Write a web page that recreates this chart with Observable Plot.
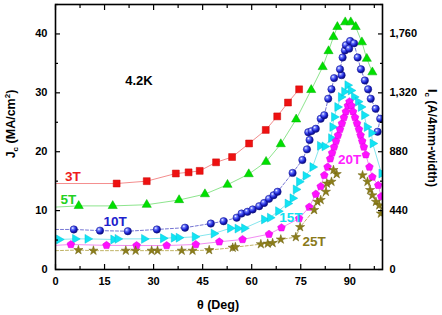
<!DOCTYPE html>
<html><head><meta charset="utf-8">
<script src="https://cdn.jsdelivr.net/npm/d3@7"></script>
<script src="https://cdn.jsdelivr.net/npm/@observablehq/plot@0.6"></script>
<style>
body{margin:0;background:#fff}
#chart svg{font-family:"Liberation Sans",Arial,sans-serif;font-weight:bold;}
</style>
</head><body><div id="chart"></div>
<script>
// ---- data: [theta (deg), Jc (MA/cm^2)] ----
const s3T = [[18.7,14.6],[27.9,15.0],[36.8,16.3],[40.7,16.5],[44.1,16.75],[49.1,18.2],[54.0,19.1],[59.2,21.4],[64.3,23.7],[67.8,26.0],[71.1,28.35],[74.5,30.6]];
const s5T = [[7.1,10.8],[17.5,10.8],[27.9,11.0],[37.8,11.8],[45.7,12.8],[52.6,14.4],[59.1,16.2],[64.4,18.3],[68.9,21.3],[73.6,25.5],[78.2,30.5],[81.7,34.4],[83.5,37.1],[85.0,39.5],[86.2,41.2],[88.6,42.0],[90.3,42.0],[91.8,41.2],[93.7,38.6],[95.2,35.8],[96.9,33.5]];
const s10T = [[5.6,6.8],[13.6,6.6],[22.1,6.5],[31.0,6.8],[39.6,7.1],[47.5,7.8],[51.4,8.2],[55.4,8.8],[56.9,9.5],[58.7,9.8],[60.3,10.2],[62.3,10.75],[63.8,11.3],[65.3,12.0],[66.7,12.6],[67.9,13.2],[72.5,16.4],[75.5,18.6],[76.9,20.4],[77.7,22.0],[77.3,23.3],[78.3,23.5],[79.6,23.9],[81.1,25.6],[82.2,26.2],[83.4,29.0],[84.4,30.6],[85.2,32.5],[87.5,33.0],[87.0,34.0],[87.8,36.0],[88.5,37.2],[88.8,38.1],[89.8,37.5],[90.1,38.8],[91.3,38.4],[92.4,36.0],[93.4,34.0],[94.6,32.1],[95.6,30.6],[96.4,29.0],[97.9,27.3],[99.3,25.6],[98.5,23.4]];
const s15T = [[1.1,5.1],[6.0,5.2],[9.8,5.2],[17.7,5.1],[19.0,5.2],[27.1,5.2],[32.9,5.3],[36.2,5.4],[37.7,5.4],[42.6,5.55],[48.4,6.1],[53.4,7.0],[55.7,6.95],[57.7,7.0],[63.8,8.5],[65.6,8.8],[68.1,9.9],[71.0,11.2],[72.5,12.1],[73.5,13.6],[74.5,14.9],[76.5,15.9],[78.6,17.4],[80.9,21.0],[82.3,20.9],[84.3,22.3],[84.7,24.2],[85.2,25.9],[86.2,27.6],[87.3,29.3],[88.3,30.2],[89.3,31.3],[90.3,30.4],[91.3,29.3],[92.5,28.5],[93.4,27.6],[94.4,26.2],[95.2,24.2],[96.6,23.2],[97.0,21.4],[99.7,16.3]];
const s20T = [[4.7,4.25],[15.6,4.1],[24.8,4.07],[34.0,4.07],[42.9,4.25],[50.1,4.7],[57.2,5.1],[65.3,6.0],[69.1,7.1],[74.5,8.65],[77.6,10.6],[79.6,12.8],[81.1,14.1],[82.2,16.0],[83.2,17.4],[84.0,18.8],[84.6,19.8],[85.2,20.8],[85.8,21.8],[86.4,22.8],[87.0,23.8],[87.6,24.8],[88.2,25.8],[88.8,26.8],[89.4,27.8],[89.9,28.5],[90.5,27.8],[91.0,26.8],[91.6,25.8],[92.2,24.8],[92.8,23.8],[93.3,22.8],[93.8,21.8],[94.3,20.8],[94.9,19.5],[96.0,17.4],[96.9,15.7],[98.7,14.3],[99.6,12.4]];
const s25T = [[7.0,3.3],[11.6,3.2],[21.5,3.2],[24.5,3.2],[29.4,3.2],[31.2,3.2],[38.6,3.2],[41.9,3.2],[47.0,3.3],[54.2,3.7],[55.0,3.8],[62.8,4.3],[64.9,4.4],[66.4,4.5],[68.9,5.1],[73.5,5.5],[74.8,7.2],[79.1,10.1],[80.1,11.5],[81.1,11.8],[82.7,13.2],[83.0,14.6],[84.4,14.9],[86.0,16.2],[85.0,16.9]];
const s25Tb = [[93.9,16.0],[95.4,14.9],[96.2,13.5],[96.9,12.6],[98.0,11.5],[99.0,10.9],[99.5,9.5]];
// Jc level of each fit line at theta = 0
const lineStart = {"3T":14.6,"5T":10.6,"10T":6.8,"15T":5.0,"20T":4.1,"25T":3.2};
const xTicks = [0,15,30,45,60,75,90];
const yTicks = [0,10,20,30,40];
const icPerJc = 44; // right axis: Ic (A/4mm-width) = 44 * Jc

// ---- custom symbols ----
const triRight = {draw(ctx,size){const y=Math.sqrt(size/(Math.sqrt(3)*3));ctx.moveTo(2*y,0);ctx.lineTo(-y,-Math.sqrt(3)*y);ctx.lineTo(-y,Math.sqrt(3)*y);ctx.closePath();}};
const pentagon = {draw(ctx,size){const r=Math.sqrt(size/2.378);for(let i=0;i<5;i++){const a=-Math.PI/2+i*2*Math.PI/5;const x=r*Math.cos(a),y=r*Math.sin(a);i?ctx.lineTo(x,y):ctx.moveTo(x,y);}ctx.closePath();}};

const series = [
  {name:"3T", data:s3T, color:"#ee1111", line:"#f07070", symbol:"square", r:3.9, stroke:"#cc0000"},
  {name:"5T", data:s5T, color:"#00e000", line:"#70dd70", symbol:"triangle", r:3.4, stroke:"#00b000"},
  {name:"10T", data:s10T, color:"url(#ball)", line:"#5050c8", symbol:"circle", r:3.7, stroke:"#10108a", dash:"3,2"},
  {name:"15T", data:s15T, color:"#11e4f4", line:"#66e0e8", symbol:triRight, r:3.3, stroke:"#00c4d8"},
  {name:"20T", data:s20T, color:"#ff10ff", line:"#ee70ee", symbol:pentagon, r:3.5, stroke:"#dd00dd"},
  {name:"25T", data:s25T, color:"#8c7e1a", line:"#b0a040", symbol:"star", r:2.9, stroke:"#6e6210", dash:"3,2"}
];

const marks = [];
for (const s of series) {
  marks.push(Plot.line([[0, lineStart[s.name]], ...s.data], {x:d=>d[0], y:d=>d[1], stroke:s.line, strokeWidth:0.8, strokeDasharray:s.dash, clip:true}));
}
marks.push(Plot.line(s25Tb, {x:d=>d[0], y:d=>d[1], stroke:"#b0a040", strokeWidth:0.8, strokeDasharray:"3,2", clip:true}));
for (const s of series) {
  marks.push(Plot.dot(s.data, {x:d=>d[0], y:d=>d[1], symbol:s.symbol, r:s.r, fill:s.color, stroke:s.stroke, strokeWidth:0.5, clip:true}));
}
marks.push(Plot.dot(s25Tb, {x:d=>d[0], y:d=>d[1], symbol:"star", r:2.9, fill:"#8c7e1a", stroke:"#6e6210", strokeWidth:0.5, clip:true}));

// series labels
const labels = [
  {t:"3T", x:2.9, y:15.7, c:"#ee1c1c"},
  {t:"5T", x:1.5, y:11.8, c:"#22d022"},
  {t:"10T", x:14.7, y:8.1, c:"#2020cc"},
  {t:"15T", x:68.4, y:8.8, c:"#11e0f0"},
  {t:"20T", x:86.4, y:18.7, c:"#ff22ff"},
  {t:"25T", x:75.5, y:4.7, c:"#8a7a1a"},
  {t:"4.2K", x:21.3, y:32.0, c:"#000"}
];
marks.push(Plot.text(labels, {x:"x", y:"y", text:"t", fill:"c", textAnchor:"start", lineAnchor:"middle", fontSize:d=>d.t==="4.2K"?13:13.5, fontWeight:"bold"}));

// axes: labels
marks.push(Plot.axisX({anchor:"bottom", ticks:xTicks, tickSize:0, tickPadding:8, fontSize:11, fontWeight:"bold", label:null}));
marks.push(Plot.axisY({anchor:"left", ticks:yTicks, tickSize:0, tickPadding:8, fontSize:11, fontWeight:"bold", label:null}));
marks.push(Plot.axisY({anchor:"right", ticks:yTicks, tickSize:0, tickPadding:7, fontSize:11, fontWeight:"bold", label:null, tickFormat:d=>d3.format(",")(d*icPerJc)}));
// inward ticks
const xMinor = xTicks.map(d=>d+7.5).filter(d=>d<100);
const yMinor = yTicks.map(d=>d+5);
for (const a of ["bottom","top"]) {
  marks.push(Plot.axisX({anchor:a, ticks:xTicks, tickSize:-5, text:null, label:null, strokeWidth:1.2}));
  marks.push(Plot.axisX({anchor:a, ticks:xMinor, tickSize:-3, text:null, label:null, strokeWidth:1.2}));
}
for (const a of ["left","right"]) {
  marks.push(Plot.axisY({anchor:a, ticks:yTicks, tickSize:-5, text:null, label:null, strokeWidth:1.2}));
  marks.push(Plot.axisY({anchor:a, ticks:yMinor, tickSize:-3, text:null, label:null, strokeWidth:1.2}));
}
marks.push(Plot.frame({stroke:"#000", strokeWidth:1.6}));

const chart = Plot.plot({
  width:442, height:315,
  marginLeft:55, marginRight:60, marginTop:4, marginBottom:46,
  x:{domain:[0,100]},
  y:{domain:[0,45]},
  style:{background:"#fff", overflow:"visible"},
  marks
});

// gradient for spheres + axis titles
const svg = d3.select(chart);
const defs = svg.insert("defs", ":first-child");
const g = defs.append("radialGradient").attr("id","ball").attr("cx","35%").attr("cy","32%").attr("r","70%");
g.append("stop").attr("offset","0%").attr("stop-color","#ffffff");
g.append("stop").attr("offset","25%").attr("stop-color","#6f7cff");
g.append("stop").attr("offset","65%").attr("stop-color","#1a22d0");
g.append("stop").attr("offset","100%").attr("stop-color","#0a0a70");

const tl = svg.append("text").attr("transform","translate(15,124) rotate(-90)").attr("text-anchor","middle").attr("font-size",12.5).attr("font-weight","bold").attr("fill","#000");
tl.append("tspan").text("J");
tl.append("tspan").attr("font-size",8).attr("dy",3).text("c");
tl.append("tspan").attr("dy",-3).text(" (MA/cm");
tl.append("tspan").attr("font-size",8).attr("dy",-5).text("2");
tl.append("tspan").attr("dy",5).text(")");

const tr = svg.append("text").attr("transform","translate(428,138) rotate(90)").attr("text-anchor","middle").attr("font-size",12.5).attr("font-weight","bold").attr("fill","#000");
tr.append("tspan").text("I");
tr.append("tspan").attr("font-size",8).attr("dy",3).text("c");
tr.append("tspan").attr("dy",-3).text(" (A/4mm-width)");

svg.append("text").attr("x",218).attr("y",309).attr("text-anchor","middle").attr("font-size",12.5).attr("font-weight","bold").attr("fill","#000").text("θ (Deg)");

document.getElementById("chart").appendChild(chart);
</script>
</body></html>
